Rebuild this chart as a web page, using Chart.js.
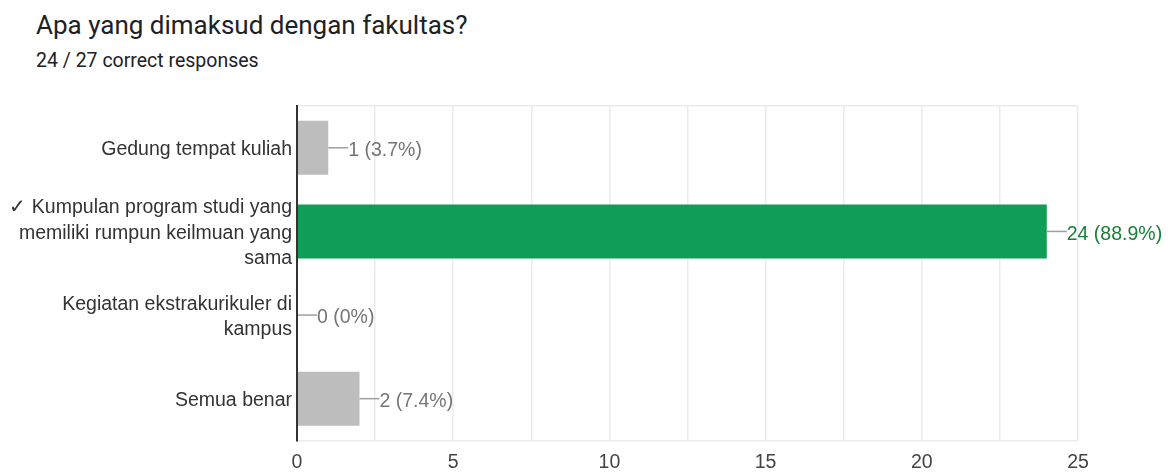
<!DOCTYPE html>
<html>
<head>
<meta charset="utf-8">
<script src="https://cdn.jsdelivr.net/npm/chart.js@4/dist/chart.umd.min.js"></script>
<style>
  body { margin: 0; background: #fff; font-family: Roboto, 'Noto Sans', sans-serif; }
  #wrap { position: relative; width: 1168px; height: 473px; }
  #title { position: absolute; left: 36px; top: 9px; font-size: 26px; color: #202124; line-height: 32px; }
  #sub { position: absolute; left: 36px; top: 49px; font-size: 19.5px; color: #202124; line-height: 24px; }
  canvas { position: absolute; left: 0; top: 0; }
</style>
</head>
<body>
<div id="wrap">
  <div id="title">Apa yang dimaksud dengan fakultas?</div>
  <div id="sub">24 / 27 correct responses</div>
  <canvas id="chart" width="1168" height="473"></canvas>
</div>
<script>
// data
const categories = [
  ['Gedung tempat kuliah'],
  ['\u2713 Kumpulan program studi yang', 'memiliki rumpun keilmuan yang', 'sama'],
  ['Kegiatan ekstrakurikuler di', 'kampus'],
  ['Semua benar']
];
const counts = [1, 24, 0, 2];
const percents = ['3.7%', '88.9%', '0%', '7.4%'];
const correct = [false, true, false, false];

const GREEN = '#0f9d58';
const GREY = '#bdbdbd';
const FONT = "'Liberation Sans', Arial, sans-serif";

// label kecil di ujung bar dengan garis penghubung
const barLabels = {
  id: 'barLabels',
  afterDatasetsDraw(chart) {
    const ctx = chart.ctx;
    const meta = chart.getDatasetMeta(0);
    ctx.save();
    ctx.font = '19.5px ' + FONT;
    ctx.textBaseline = 'middle';
    meta.data.forEach((bar, i) => {
      const x = bar.x, y = bar.y;
      ctx.strokeStyle = '#9e9e9e';
      ctx.lineWidth = 1.5;
      ctx.beginPath();
      ctx.moveTo(x, y);
      ctx.lineTo(x + 20, y);
      ctx.stroke();
      ctx.fillStyle = correct[i] ? '#188038' : '#757575';
      ctx.fillText(counts[i] + ' (' + percents[i] + ')', x + 20, y + 3);
    });
    ctx.restore();
  }
};

new Chart(document.getElementById('chart'), {
  type: 'bar',
  data: {
    labels: categories,
    datasets: [{
      data: counts,
      backgroundColor: correct.map(c => c ? GREEN : GREY),
      categoryPercentage: 1,
      barPercentage: 0.645
    }]
  },
  plugins: [barLabels],
  options: {
    indexAxis: 'y',
    responsive: false,
    animation: false,
    layout: { padding: { top: 106, right: 90, left: 0, bottom: 0 } },
    plugins: { legend: { display: false }, tooltip: { enabled: false } },
    scales: {
      x: {
        min: 0,
        max: 25,
        ticks: {
          stepSize: 2.5,
          padding: 10,
          color: '#444',
          font: { family: FONT, size: 19.5 },
          callback: v => (v % 5 === 0 ? v : '')
        },
        grid: { color: '#ebebeb', lineWidth: 1.5, drawTicks: false },
        border: { color: '#ebebeb', width: 1.5 },
        afterFit: s => { s.height = 32.5; }
      },
      y: {
        ticks: {
          padding: 5,
          labelOffset: 2,
          color: '#333',
          font: { family: FONT, size: 19.5, lineHeight: 1.3 }
        },
        grid: {
          offset: true,
          drawTicks: false,
          lineWidth: 1.5,
          color: c => (c.index === 0 || c.index === categories.length) ? '#ebebeb' : 'rgba(0,0,0,0)'
        },
        border: { color: '#333', width: 2, z: 1 },
        afterFit: s => { s.width = 297; }
      }
    }
  }
});
</script>
</body>
</html>
